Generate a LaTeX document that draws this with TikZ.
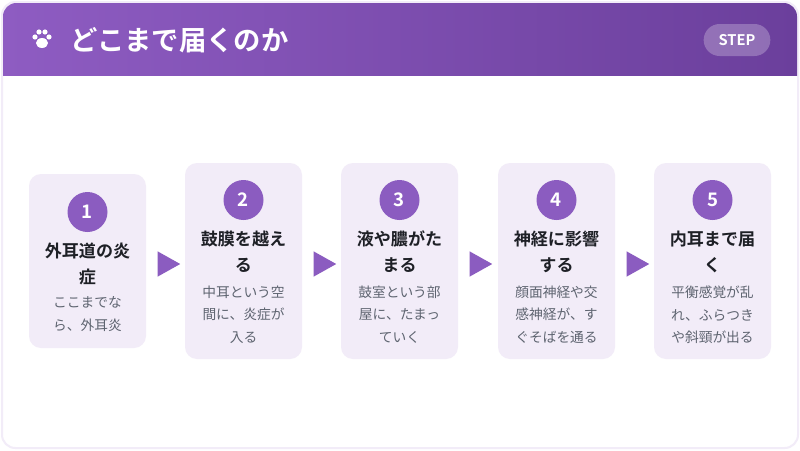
\documentclass[tikz,border=0pt]{standalone}
\usepackage{fontspec}
\setmainfont{Noto Sans CJK JP}
\newfontfamily\cjkb{Noto Sans CJK JP Bold}
\usetikzlibrary{shapes.geometric}
\definecolor{pA}{HTML}{8E5CC2}
\definecolor{pB}{HTML}{6B3F9C}
\definecolor{card}{HTML}{F2ECF8}
\definecolor{circ}{HTML}{8B5CC0}
\definecolor{desc}{HTML}{5E6470}
\definecolor{ttl}{HTML}{1E2026}
\begin{document}
\begin{tikzpicture}[x=0.75pt,y=-0.75pt,
  cardbox/.style={fill=card,rounded corners=9pt,draw=none},
  num/.style={circle,fill=circ,minimum size=30pt,inner sep=0,text=white,font=\cjkb\fontsize{14}{14}\selectfont},
  ttl/.style={text=ttl,font=\cjkb\fontsize{12.8}{19.5}\selectfont,align=center,text width=80pt},
  dsc/.style={text=desc,font=\fontsize{10.3}{17}\selectfont,align=center,text width=76pt},
  arr/.style={isosceles triangle,fill=circ,minimum width=19pt,minimum height=17pt,inner sep=0,isosceles triangle stretches}]
\useasboundingbox (0,0) rectangle (800,450);
\fill[white] (0,0) rectangle (800,450);
\draw[color=card!80!pA!40,line width=1.5pt,rounded corners=10pt,fill=white] (2,2) rectangle (798,448);
\begin{scope}
\clip[rounded corners=10pt] (3,3) rectangle (797,447);
\shade[left color=pA,right color=pB] (3,3) rectangle (797,75);
\end{scope}
% paw
\begin{scope}[shift={(42,40)}]
\fill[white] (0,3) ellipse (6 and 5);
\fill[white] (-7,-3) circle (2.6) (7,-3) circle (2.6) (-3,-8) circle (2.6) (3,-8) circle (2.6);
\end{scope}
\node[anchor=west,text=white,font=\cjkb\fontsize{20.5}{20.5}\selectfont] (title) at (66,40) {どこまで届くのか};
\node[fill=white,fill opacity=0.25,text opacity=1,text=white,rounded corners=12pt,minimum width=50pt,minimum height=24pt,font=\cjkb\fontsize{11}{11}\selectfont] (step) at (737,40) {STEP};
% cards
\fill[cardbox] (29,174) rectangle (146,348);
\fill[cardbox] (185,163) rectangle (302,359);
\fill[cardbox] (341,163) rectangle (458,359);
\fill[cardbox] (498,163) rectangle (615,359);
\fill[cardbox] (654,163) rectangle (771,359);
\node[num] (n1) at (87.5,212) {1};
\node[num] (n2) at (243.5,200) {2};
\node[num] (n3) at (399.5,200) {3};
\node[num] (n4) at (556.5,200) {4};
\node[num] (n5) at (712.5,200) {5};
\node[ttl,anchor=north] (t1) at (87.5,238) {外耳道の炎\\症};
\node[ttl,anchor=north] (t2) at (243.5,226) {鼓膜を越え\\る};
\node[ttl,anchor=north] (t3) at (399.5,226) {液や膿がた\\まる};
\node[ttl,anchor=north] (t4) at (556.5,226) {神経に影響\\する};
\node[ttl,anchor=north] (t5) at (712.5,226) {内耳まで届\\く};
\node[dsc,anchor=north] (d1) at (87.5,292) {ここまでな\\ら、外耳炎};
\node[dsc,anchor=north] (d2) at (243.5,281) {中耳という空\\間に、炎症が\\入る};
\node[dsc,anchor=north] (d3) at (399.5,281) {鼓室という部\\屋に、たまっ\\ていく};
\node[dsc,anchor=north] (d4) at (556.5,281) {顔面神経や交\\感神経が、す\\ぐそばを通る};
\node[dsc,anchor=north] (d5) at (712.5,281) {平衡感覚が乱\\れ、ふらつき\\や斜頸が出る};
\node[arr] (a1) at (165,264) {};
\node[arr] (a2) at (321,264) {};
\node[arr] (a3) at (477,264) {};
\node[arr] (a4) at (634,264) {};
\end{tikzpicture}
\end{document}
